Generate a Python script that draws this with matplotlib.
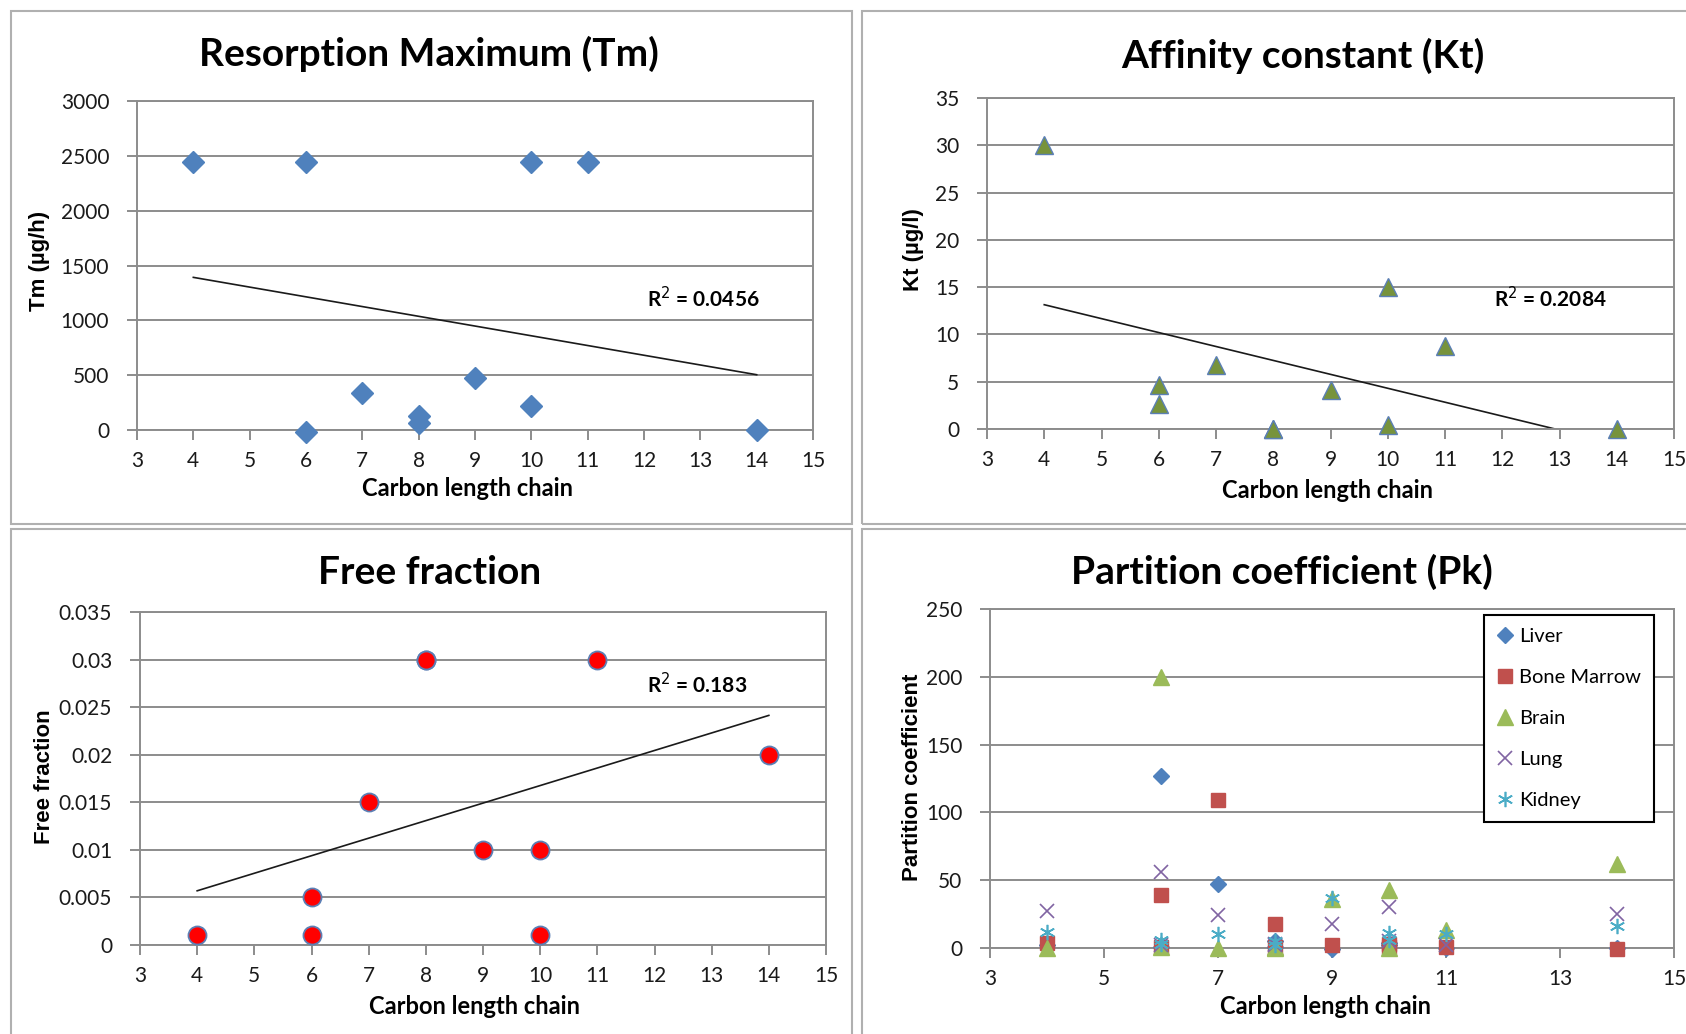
import numpy as np
import matplotlib
matplotlib.use("Agg")
import matplotlib.pyplot as plt
from matplotlib.patches import Rectangle

# ---------------- data ----------------
carbon = [4, 6, 6, 7, 8, 8, 9, 10, 10, 11, 14]

tm_values = [2440, 2440, -20, 340, 130, 60, 470, 2440, 220, 2440, 0]
kt_values = [30, 4.7, 2.6, 6.8, 0, 0, 4.1, 15, 0.4, 8.8, 0]
ff_values = [0.001, 0.005, 0.001, 0.015, 0.03, 0.03, 0.01, 0.01, 0.001, 0.03, 0.02]

pk_liver = [2, 127, 1, 47, 5, 1, -1, 4, 2, 0, 0]
pk_bone_marrow = [4, 39, 1, 109, 18, 1, 2, 3, 1, 1, -1]
pk_brain = [0, 200, 1, 0, 1, 0, 36, 43, 0, 13, 62]
pk_lung = [27, 56, 2, 24, 3, 2, 18, 30, 5, 2, 25]
pk_kidney = [12, 6, 3, 10, 5, 2, 37, 11, 6, 10, 16]

r2_tm = "R$^2$ = 0.0456"
r2_kt = "R$^2$ = 0.2084"
r2_ff = "R$^2$ = 0.183"

W, H = 1686, 1034
fig = plt.figure(figsize=(W / 100, H / 100), dpi=100)
fig.patch.set_facecolor("white")

FONT = "Lato"
YFONT = "Liberation Sans"
GRID = "#8C8C8C"
TITLE_FS = 28
XLAB_FS = 17
YLAB_FS = 16
TICK_FS = 15
R2_FS = 15


def fx(x):
    return x / W


def fy(y):
    return 1 - y / H


def ax_at(l, r, t, b):
    return fig.add_axes([l / W, 1 - b / H, (r - l) / W, (b - t) / H])


def style(ax, xticks, ylim, yticks, yfmt):
    ax.set_xlim(3, 15)
    ax.set_ylim(*ylim)
    ax.set_xticks(xticks)
    ax.set_yticks(yticks)
    ax.set_xticklabels([str(v) for v in xticks], fontfamily=FONT)
    ax.set_yticklabels([yfmt(v) for v in yticks], fontfamily=FONT)
    ax.yaxis.grid(True, color=GRID, lw=1.4)
    ax.set_axisbelow(True)
    for s in ax.spines.values():
        s.set_color(GRID)
        s.set_linewidth(1.4)
    ax.tick_params(direction="out", length=7, width=1.4, color=GRID,
                   labelsize=TICK_FS, labelcolor="#1a1a1a")
    ax.tick_params(axis="x", pad=8)
    ax.tick_params(axis="y", pad=13)


def trend(ax, x, y):
    xa = np.asarray(x, float)
    ya = np.asarray(y, float)
    k, b = np.polyfit(xa, ya, 1)
    xs = np.array([xa.min(), xa.max()])
    ax.plot(xs, k * xs + b, color="#1a1a1a", lw=1.2, zorder=2)


def ftext(x, y, s, **kw):
    fig.text(fx(x), fy(y), s, ha="center", va="center", **kw)


# panel borders
for (l, t, r, b) in [(11, 11, 852, 524), (862, 11, 1700, 524),
                     (11, 529, 852, 1050), (862, 529, 1700, 1050)]:
    fig.patches.append(Rectangle((fx(l), fy(b)), (r - l) / W, (b - t) / H,
                                 transform=fig.transFigure, fill=False,
                                 edgecolor="#B0B0B0", lw=1.5))

# ---------- Resorption maximum ----------
ax1 = ax_at(137, 813, 101, 430)
style(ax1, list(range(3, 16)), (0, 3000), list(range(0, 3001, 500)), lambda v: str(v))
trend(ax1, carbon, tm_values)
ax1.plot(carbon, tm_values, ls="none", marker="D", ms=11, mfc="#4F81BD",
         mec="#4F81BD", clip_on=False, zorder=3)
ftext(429, 54, "Resorption Maximum (Tm)", fontsize=TITLE_FS, fontweight="bold", fontfamily=FONT)
ftext(467, 488, "Carbon length chain", fontsize=XLAB_FS, fontweight="bold", fontfamily=FONT)
ftext(39, 261, "Tm (µg/h)", fontsize=YLAB_FS, fontweight="bold", fontfamily=YFONT, rotation=90)
ftext(703, 299, r2_tm, fontsize=R2_FS, fontweight="bold", fontfamily=FONT)

# ---------- Affinity constant ----------
ax2 = ax_at(987, 1674, 98, 429)
style(ax2, list(range(3, 16)), (0, 35), list(range(0, 36, 5)), lambda v: str(v))
trend(ax2, carbon, kt_values)
ax2.plot(carbon, kt_values, ls="none", marker="^", ms=13, mfc="#77933C",
         mec="#5B7FB5", mew=1.0, clip_on=False, zorder=3)
ftext(1303, 56, "Affinity constant (Kt)", fontsize=TITLE_FS, fontweight="bold", fontfamily=FONT)
ftext(1327, 490, "Carbon length chain", fontsize=XLAB_FS, fontweight="bold", fontfamily=FONT)
ftext(914, 250, "Kt (µg/l)", fontsize=YLAB_FS, fontweight="bold", fontfamily=YFONT, rotation=90)
ftext(1550, 299, r2_kt, fontsize=R2_FS, fontweight="bold", fontfamily=FONT)

# ---------- Free fraction ----------
ax3 = ax_at(140, 826, 612, 945)
ff_ticks = [0, 0.005, 0.01, 0.015, 0.02, 0.025, 0.03, 0.035]
style(ax3, list(range(3, 16)), (0, 0.035), ff_ticks, lambda v: "{:g}".format(v))
trend(ax3, carbon, ff_values)
ax3.plot(carbon, ff_values, ls="none", marker="o", ms=13, mfc="#FF0000",
         mec="#5B7FB5", mew=1.3, clip_on=False, zorder=3)
ftext(430, 572, "Free fraction", fontsize=TITLE_FS, fontweight="bold", fontfamily=FONT)
ftext(475, 1006, "Carbon length chain", fontsize=XLAB_FS, fontweight="bold", fontfamily=FONT)
ftext(45, 777, "Free fraction", fontsize=YLAB_FS, fontweight="bold", fontfamily=YFONT, rotation=90)
ftext(697, 685, r2_ff, fontsize=R2_FS, fontweight="bold", fontfamily=FONT)

# ---------- Partition coefficient ----------
ax4 = ax_at(990, 1674, 609, 948)
style(ax4, list(range(3, 16, 2)), (0, 250), list(range(0, 251, 50)), lambda v: str(v))
series = [
    ("Liver", pk_liver, dict(marker="D", ms=8, mfc="#4F81BD", mec="#4F81BD")),
    ("Bone Marrow", pk_bone_marrow, dict(marker="s", ms=10, mfc="#C0504D", mec="#C0504D")),
    ("Brain", pk_brain, dict(marker="^", ms=11, mfc="#9BBB59", mec="#9BBB59")),
    ("Lung", pk_lung, dict(marker="x", ms=10, mfc="none", mec="#8064A2", mew=1.2)),
    ("Kidney", pk_kidney, dict(marker=(6, 2, 0), ms=11, mfc="none", mec="#4BACC6", mew=1.2)),
]
handles = []
for name, vals, kw in series:
    h, = ax4.plot(carbon, vals, ls="none", label=name, clip_on=False, zorder=3, **kw)
    handles.append(h)
leg = ax4.legend(handles=handles, loc="upper left",
                 bbox_to_anchor=(fx(1484), fy(615)), bbox_transform=fig.transFigure,
                 frameon=True, fancybox=False, framealpha=1, edgecolor="black",
                 prop={"family": FONT, "size": 14.5}, labelspacing=1.18,
                 handlelength=0.8, handletextpad=0.3, borderpad=0.65,
                 borderaxespad=0)
leg.get_frame().set_linewidth(1.5)
ftext(1282, 572, "Partition coefficient (Pk)", fontsize=TITLE_FS, fontweight="bold", fontfamily=FONT)
ftext(1326, 1006, "Carbon length chain", fontsize=XLAB_FS, fontweight="bold", fontfamily=FONT)
ftext(913, 777, "Partition coefficient", fontsize=YLAB_FS, fontweight="bold", fontfamily=YFONT, rotation=90)

fig.savefig("out.png", dpi=100, facecolor="white")
